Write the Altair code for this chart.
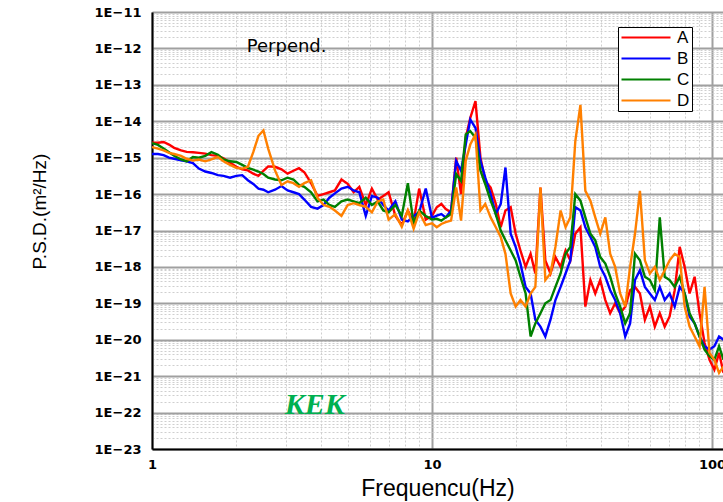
import altair as alt
import pandas as pd

# ---------------- data (frequency in Hz, PSD given as log10 exponent) ----------------
freq = [1.0, 1.05, 1.1, 1.15, 1.2, 1.27, 1.33, 1.4, 1.47, 1.55,
        1.63, 1.72, 1.8, 1.9, 2.0, 2.1, 2.2, 2.3, 2.4, 2.5,
        2.6, 2.75, 2.9, 3.05, 3.2, 3.35, 3.5, 3.7, 3.9, 4.1,
        4.3, 4.5, 4.75, 5.0, 5.25, 5.5, 5.8, 6.1, 6.4, 6.7,
        7.0, 7.4, 7.8, 8.2, 8.6, 9.0, 9.5, 10.0,
        10.4, 10.8, 11.2, 11.7, 12.2, 12.7, 13.2, 13.7, 14.3, 14.9,
        15.5, 16.2, 16.9, 17.6, 18.3, 19.1, 19.9, 20.7, 21.6, 22.5,
        23.4, 24.4, 25.4, 26.5, 27.6, 28.8, 30.0, 31.2, 32.5, 33.9,
        35.3, 36.8, 38.3, 39.9, 41.6, 43.3, 45.1, 47.0, 49.0, 51.0,
        53.1, 55.3, 57.6, 60.0, 62.5, 65.1, 67.8, 70.6, 73.6, 76.7,
        79.9, 83.2, 86.7, 90.3, 94.1, 98.0, 102.0, 106.0, 110.0]

exp_A = [-14.59, -14.59, -14.57, -14.64, -14.73, -14.80, -14.84, -14.85, -14.87, -14.89,
         -14.93, -14.95, -15.02, -15.14, -15.25, -15.32, -15.35, -15.44, -15.50, -15.36,
         -15.24, -15.25, -15.32, -15.44, -15.36, -15.29, -15.40, -15.70, -16.05, -16.00,
         -15.95, -15.90, -15.60, -15.72, -15.95, -15.80, -16.30, -15.85, -16.15, -16.05,
         -15.95, -16.60, -16.85, -16.45, -16.75, -15.85, -16.70, -16.60,
         -16.36, -16.27, -16.41, -16.50, -15.00, -16.00, -14.45, -13.91, -13.45, -15.00,
         -15.64, -15.82, -16.27, -16.91, -16.45, -16.36, -17.09, -17.55, -18.00, -17.64,
         -18.18, -15.82, -17.82, -18.18, -17.73, -18.00, -17.55, -17.82, -17.09, -16.91,
         -19.09, -18.36, -18.73, -18.36, -18.91, -19.27, -19.00, -19.27, -19.09, -18.64,
         -18.55, -18.73, -19.45, -19.09, -19.64, -19.27, -19.64, -19.36, -18.64, -17.45,
         -18.00, -18.73, -18.27, -19.27, -20.09, -20.55, -20.82, -20.36, -20.91]

exp_B = [-14.90, -14.90, -14.93, -15.00, -15.03, -15.07, -15.10, -15.15, -15.30, -15.38,
         -15.42, -15.48, -15.50, -15.55, -15.50, -15.48, -15.62, -15.72, -15.85, -15.88,
         -15.95, -15.88, -15.78, -15.90, -15.95, -16.00, -16.15, -16.35, -16.40, -16.30,
         -16.10, -15.98, -15.85, -15.80, -15.90, -15.95, -16.60, -16.05, -16.10, -16.30,
         -16.45, -16.20, -16.70, -16.75, -16.60, -16.50, -15.85, -16.65,
         -16.59, -16.55, -16.64, -16.45, -15.09, -15.36, -14.64, -13.95, -14.18, -15.09,
         -15.55, -16.00, -16.55, -16.27, -15.27, -17.09, -17.45, -17.91, -18.55, -18.73,
         -19.45, -19.64, -19.91, -19.45, -18.91, -18.55, -18.18, -17.82, -16.36, -16.45,
         -16.91, -17.18, -17.45, -18.00, -18.27, -18.64, -18.91, -19.27, -19.91, -19.55,
         -18.36, -18.09, -18.55, -18.73, -18.91, -18.55, -18.91, -18.73, -19.09, -18.55,
         -18.73, -19.36, -19.55, -19.91, -20.18, -20.27, -20.18, -19.91, -20.00]

exp_C = [-14.60, -14.65, -14.75, -14.85, -14.95, -15.05, -15.10, -14.98, -15.00, -14.95,
         -14.85, -14.92, -15.05, -15.10, -15.12, -15.20, -15.28, -15.33, -15.38, -15.45,
         -15.55, -15.60, -15.62, -15.55, -15.60, -15.75, -15.80, -15.95, -16.20, -16.15,
         -16.30, -16.35, -16.20, -16.15, -16.20, -16.25, -16.10, -16.30, -16.20, -16.45,
         -16.50, -16.30, -16.60, -15.70, -16.80, -16.45, -16.60, -16.70,
         -16.68, -16.73, -16.64, -16.55, -15.45, -15.64, -14.36, -14.27, -14.45, -15.36,
         -15.73, -16.18, -16.55, -17.00, -17.27, -17.55, -17.82, -18.27, -18.73, -19.91,
         -19.55, -19.27, -19.00, -18.91, -18.55, -18.18, -17.64, -17.45, -16.00, -16.18,
         -16.64, -17.09, -17.27, -17.73, -17.91, -18.27, -18.73, -19.09, -19.55, -19.27,
         -17.64, -17.82, -18.27, -18.36, -18.64, -16.64, -18.27, -18.36, -18.55, -18.27,
         -18.73, -19.27, -19.55, -19.91, -20.27, -20.45, -20.55, -20.18, -20.55]

exp_D = [-14.71, -14.75, -14.80, -14.87, -14.90, -14.95, -15.03, -15.08, -15.05, -15.10,
         -15.05, -14.98, -15.10, -15.20, -15.28, -15.30, -15.25, -14.85, -14.40, -14.25,
         -14.75, -15.35, -15.75, -15.65, -15.70, -15.80, -15.70, -15.62, -16.10, -16.30,
         -16.35, -16.45, -16.60, -16.30, -16.25, -16.30, -16.35, -16.50, -16.20, -16.15,
         -16.70, -16.55, -16.90, -16.45, -16.95, -16.50, -16.85, -16.80,
         -16.91, -16.82, -16.77, -16.73, -15.82, -16.73, -15.09, -14.64, -14.36, -16.45,
         -16.27, -16.64, -16.91, -17.18, -17.64, -18.73, -19.09, -18.91, -19.09, -18.73,
         -18.55, -15.82, -18.36, -18.18, -17.45, -16.45, -16.91, -16.64, -14.55, -13.55,
         -15.91, -16.18, -16.64, -17.09, -16.64, -17.64, -18.00, -18.73, -19.09, -18.00,
         -17.09, -15.91, -17.82, -18.18, -18.00, -18.36, -18.09, -17.82, -17.64, -17.73,
         -19.09, -19.64, -19.91, -20.18, -18.55, -20.36, -20.55, -20.91, -20.73]

series_names = ["A", "B", "C", "D"]
series_colors = ["#ff0000", "#0000ff", "#008000", "#ff8000"]

y_decades = list(range(-23, -10))          # 1E-23 ... 1E-11
x_decades = [0, 1, 2]                      # 1, 10, 100

rows = []
for name, vals in zip(series_names, [exp_A, exp_B, exp_C, exp_D]):
    for f, e in zip(freq, vals):
        rows.append({"f": f, "psd": 10.0 ** e, "series": name})
df = pd.DataFrame(rows)

# grid / tick positions (1..9 per decade)
y_ticks = [m * 10.0 ** k for k in y_decades[:-1] for m in range(1, 10)] + [10.0 ** y_decades[-1]]
x_ticks = [m * 10.0 ** k for k in x_decades[:-1] for m in range(1, 10)] + [10.0 ** x_decades[-1]]

dec = "abs(log(datum.value)/LN10 - round(log(datum.value)/LN10)) < 0.01"
grid_color = {"condition": {"test": dec, "value": "#a0a0a0"}, "value": "#cfcfcf"}
grid_dash = {"condition": {"test": dec, "value": []}, "value": [2, 2]}
grid_width = {"condition": {"test": dec, "value": 2}, "value": 1}

x_axis = alt.Axis(
    values=x_ticks, title="Frequencu(Hz)",
    labelExpr=f"({dec}) ? format(datum.value, 'd') : ''",
    labelOverlap=False, labelFlush=False,
    grid=True, gridColor=grid_color, gridDash=grid_dash, gridWidth=grid_width,
    ticks=False, domainColor="black", domainWidth=2,
    labelFont="DejaVu Sans", labelFontWeight="bold", labelFontSize=13,
    labelColor="black", labelPadding=9,
    titleFont="Liberation Sans", titleFontSize=23, titleFontWeight="normal",
    titleColor="black", titleY=46, titleBaseline="alphabetic",
)
y_axis = alt.Axis(
    values=y_ticks, title="P.S.D.(m²/Hz)",
    labelExpr=f"({dec}) ? '1E' + format(round(log(datum.value)/LN10), 'd') : ''",
    labelOverlap=False, labelFlush=False,
    grid=True, gridColor=grid_color, gridDash=grid_dash, gridWidth=grid_width,
    ticks=False, domainColor="black", domainWidth=2,
    labelFont="DejaVu Sans", labelFontWeight="bold", labelFontSize=13,
    labelColor="black", labelPadding=11,
    titleFont="Liberation Sans", titleFontSize=19, titleFontWeight="normal",
    titleColor="black", titleX=-107, titleY=199, titleBaseline="alphabetic",
)

x_enc = alt.X("f:Q", scale=alt.Scale(type="log", domain=[1, 109.5], nice=False), axis=x_axis)
y_enc = alt.Y("psd:Q", scale=alt.Scale(type="log", domain=[1e-23, 1e-11], nice=False), axis=y_axis)

lines = alt.Chart(df).mark_line(strokeWidth=2.4, clip=True).encode(
    x=x_enc, y=y_enc,
    color=alt.Color(
        "series:N",
        scale=alt.Scale(domain=series_names, range=series_colors),
        legend=alt.Legend(
            orient="none", legendX=466, legendY=15, title=None,
            symbolType="M-1,0H6", symbolSize=196, symbolStrokeWidth=2,
            labelOffset=40, labelFont="Liberation Sans", labelFontSize=17,
            labelColor="black", strokeColor="black", fillColor="white",
            padding=2, rowPadding=3, cornerRadius=0,
        ),
    ),
    order=alt.Order("f:Q"),
)

perp = pd.DataFrame({"f": [2.18], "psd": [1.1e-12], "t": ["Perpend."]})
kek = pd.DataFrame({"f": [2.98], "psd": [10.0 ** -21.79], "t": ["KEK"]})

perp_text = alt.Chart(perp).mark_text(
    align="left", baseline="middle", font="DejaVu Sans", fontSize=18, color="black"
).encode(x="f:Q", y="psd:Q", text="t:N")

kek_text = alt.Chart(kek).mark_text(
    align="left", baseline="middle", font="Liberation Serif", fontStyle="italic",
    fontWeight="bold", fontSize=30, color="#00b050"
).encode(x="f:Q", y="psd:Q", text="t:N")

chart = alt.layer(lines, perp_text, kek_text).properties(
    width=571, height=437,
    autosize=alt.AutoSizeParams(type="none"),
    padding={"left": 152, "top": 12, "right": 0, "bottom": 53},
    background="white",
).configure_view(stroke=None)

chart.save("out.html", embed_options={"renderer": "svg", "actions": False})
